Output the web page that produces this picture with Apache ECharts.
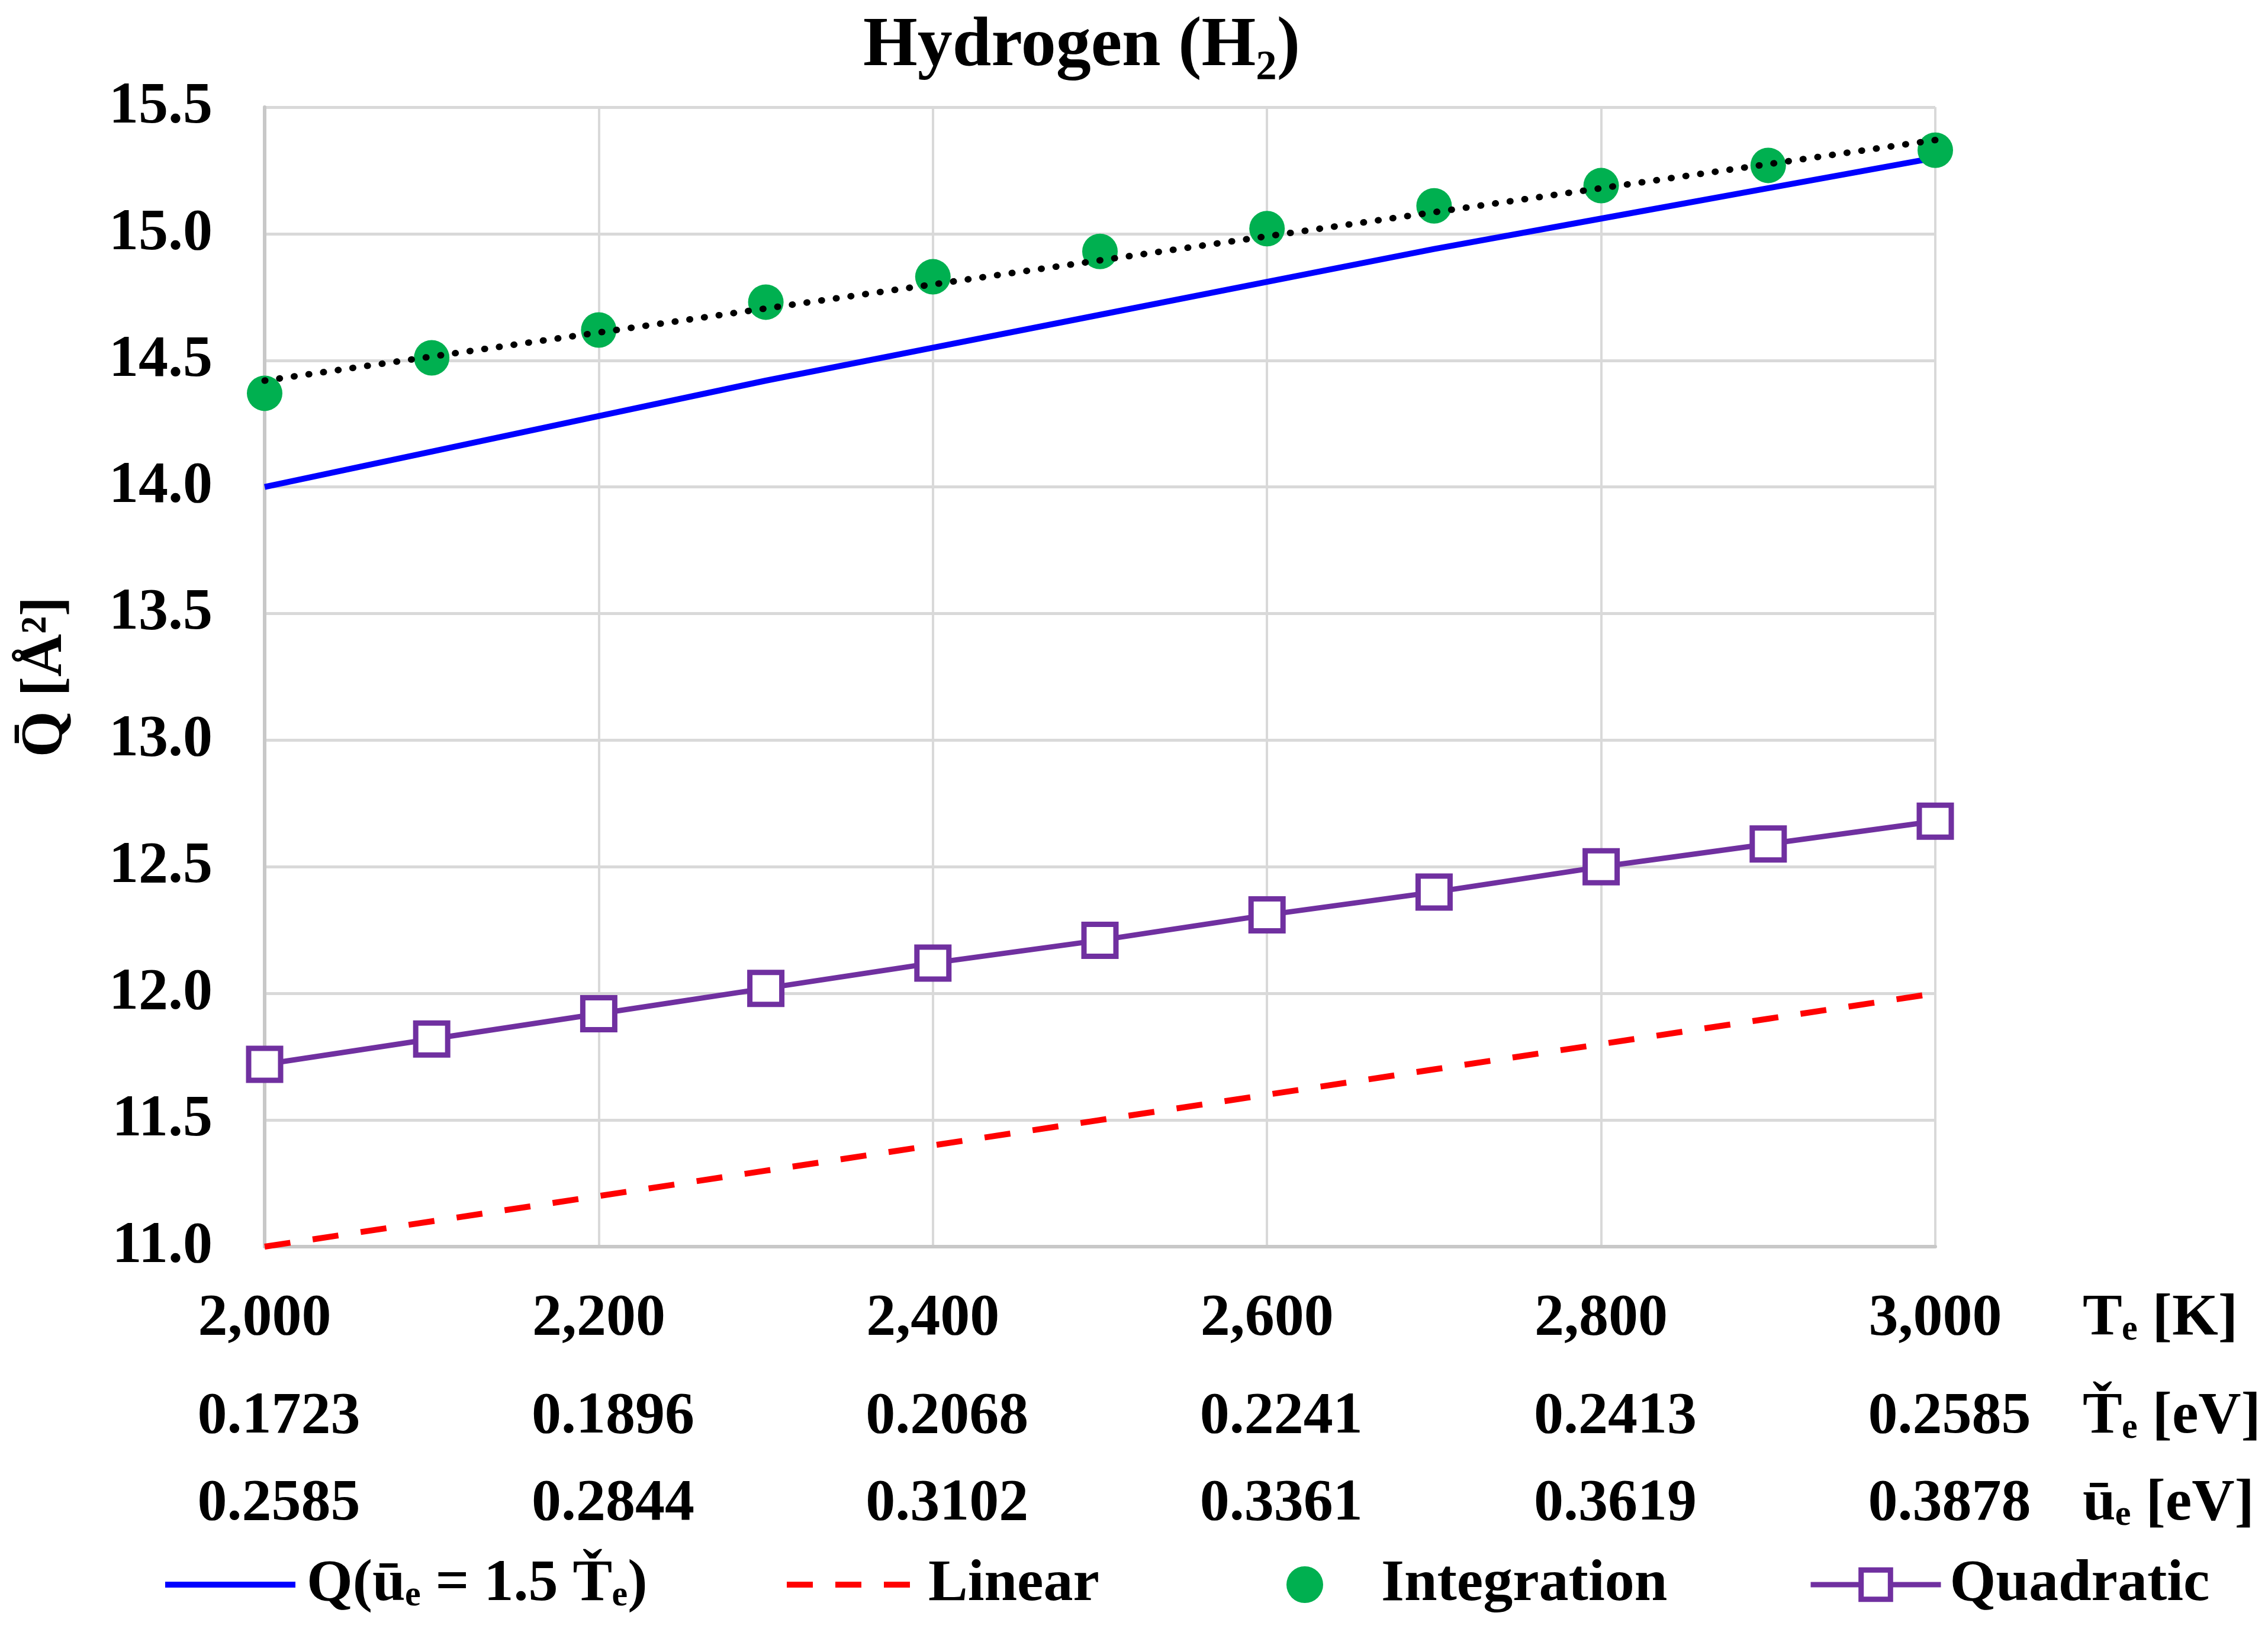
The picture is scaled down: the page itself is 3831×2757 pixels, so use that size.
<!DOCTYPE html>
<html>
<head>
<meta charset="utf-8">
<script src="https://cdn.jsdelivr.net/npm/echarts@6/dist/echarts.min.js"></script>
<style>
html,body{margin:0;padding:0;background:#fff;}
#chart{width:3831px;height:2757px;}
</style>
</head>
<body>
<div id="chart"></div>
<script>
// ---- data ----
const tempK = [2000, 2100, 2200, 2300, 2400, 2500, 2600, 2700, 2800, 2900, 3000];
const qModel = [14.00, 14.14, 14.28, 14.42, 14.55, 14.68, 14.81, 14.94, 15.06, 15.18, 15.30];
const qLinear = [11.00, 11.10, 11.20, 11.30, 11.40, 11.50, 11.60, 11.70, 11.80, 11.90, 12.00];
const qIntegration = [14.37, 14.51, 14.62, 14.73, 14.83, 14.93, 15.02, 15.11, 15.19, 15.27, 15.33];
const qQuadratic = [11.72, 11.82, 11.92, 12.02, 12.12, 12.21, 12.31, 12.40, 12.50, 12.59, 12.68];
const trendK = [2000, 3000];
const trendQ = [14.42, 15.37];

const tickTeK = ['2,000', '2,200', '2,400', '2,600', '2,800', '3,000'];
const tickTeEV = ['0.1723', '0.1896', '0.2068', '0.2241', '0.2413', '0.2585'];
const tickUeEV = ['0.2585', '0.2844', '0.3102', '0.3361', '0.3619', '0.3878'];

const seriesNames = ['Q(ūₑ = 1.5 Ťₑ)', 'Linear', 'Integration', 'Quadratic'];
const titleText = 'Hydrogen (H₂)';
const yName = 'Q̄ [Å²]';
const rowNames = ['Tₑ [K]', 'Ťₑ [eV]', 'ūₑ [eV]'];

// ---- chart ----
const FONT = '"Liberation Serif", "Times New Roman", "DejaVu Serif", serif';
const zip = (xs, ys) => xs.map((x, i) => [x, ys[i]]);
const chart = echarts.init(document.getElementById('chart'), null, {renderer: 'canvas'});

function rowAxis(labels, offset, name, shift) {
  return {
    type: 'value', position: 'bottom', offset: offset,
    min: 2000, max: 3000, interval: 200,
    axisLine: {show: false}, axisTick: {show: false}, splitLine: {show: false},
    axisLabel: {
      show: true, margin: 0, verticalAlign: 'middle', align: 'center',
      padding: [0, 0, 0, shift],
      showMinLabel: true, showMaxLabel: true,
      fontFamily: FONT, fontWeight: 'bold', fontSize: 100, color: '#000',
      formatter: v => labels[Math.round((v - 2000) / 200)]
    },
    name: name, nameLocation: 'end', nameGap: 249,
    nameTextStyle: {fontFamily: FONT, fontWeight: 'bold', fontSize: 100, color: '#000', verticalAlign: 'middle', align: 'left'}
  };
}

const legendText = pad => ({fontFamily: FONT, fontWeight: 'bold', fontSize: 100, color: '#000', padding: [0, 0, 0, pad]});
function legendFor(item, left, pad, width) {
  return {
    data: [item], left: left, top: 2622,
    itemWidth: width, itemHeight: 62,
    lineStyle: {width: 'inherit'},
    itemStyle: {borderWidth: 'inherit'},
    textStyle: legendText(pad)
  };
}

const option = {
  backgroundColor: '#fff',
  animation: false,
  title: {
    text: titleText, left: 1822, top: 16, textAlign: 'center',
    textStyle: {fontFamily: FONT, fontWeight: 'bold', fontSize: 118, color: '#000'}
  },
  grid: {left: 447, right: 562, top: 181, bottom: 651, containLabel: false},
  legend: [
    legendFor({name: seriesNames[0], itemStyle: {opacity: 0}}, 269, 14, 220),
    legendFor({name: seriesNames[1], itemStyle: {opacity: 0}}, 1319, 14, 220),
    legendFor({name: seriesNames[2]}, 2168, 93, 62),
    legendFor({name: seriesNames[3]}, 3049, 10, 220)
  ],
  xAxis: [
    {
      type: 'value', min: 2000, max: 3000, interval: 200, position: 'bottom',
      axisLine: {show: true, onZero: false, lineStyle: {color: '#c8c8c8', width: 6}},
      axisTick: {show: false},
      axisLabel: {show: false},
      splitLine: {show: true, lineStyle: {color: '#d9d9d9', width: 4}}
    },
    rowAxis(tickTeK, 122, rowNames[0], 0),
    rowAxis(tickTeEV, 288, rowNames[1], 48),
    rowAxis(tickUeEV, 435, rowNames[2], 48)
  ],
  yAxis: {
    type: 'value', min: 11, max: 15.5, interval: 0.5,
    axisLine: {show: true, lineStyle: {color: '#c8c8c8', width: 6}},
    axisTick: {show: false},
    splitLine: {show: true, lineStyle: {color: '#d9d9d9', width: 5}},
    axisLabel: {
      margin: 88, fontFamily: FONT, fontWeight: 'bold', fontSize: 100, color: '#000',
      formatter: v => v.toFixed(1)
    },
    name: yName, nameLocation: 'middle', nameGap: 320, nameRotate: 90,
    nameTextStyle: {fontFamily: FONT, fontWeight: 'bold', fontSize: 100, color: '#000'}
  },
  series: [
    {
      name: seriesNames[0], type: 'line', data: zip(tempK, qModel),
      symbol: 'none', lineStyle: {color: '#0000ff', width: 10}, itemStyle: {color: '#0000ff'}, z: 3
    },
    {
      name: seriesNames[1], type: 'line', data: zip(tempK, qLinear),
      symbol: 'none', lineStyle: {color: '#ff0000', width: 10, type: [44, 38]}, itemStyle: {color: '#ff0000'}, z: 3
    },
    {
      name: seriesNames[2], type: 'scatter', data: zip(tempK, qIntegration),
      symbol: 'circle', symbolSize: 60, itemStyle: {color: '#00b050', opacity: 1}, z: 4
    },
    {
      name: 'trend', type: 'line', data: zip(trendK, trendQ),
      symbol: 'none', lineStyle: {color: '#000', width: 11, type: [1, 24], cap: 'round'}, z: 5, silent: true
    },
    {
      name: seriesNames[3], type: 'line', data: zip(tempK, qQuadratic),
      symbol: 'rect', symbolSize: 54, showAllSymbol: true,
      lineStyle: {color: '#7030a0', width: 9},
      itemStyle: {color: '#ffffff', borderColor: '#7030a0', borderWidth: 9}, z: 4
    }
  ]
};
chart.setOption(option);
</script>
</body>
</html>
